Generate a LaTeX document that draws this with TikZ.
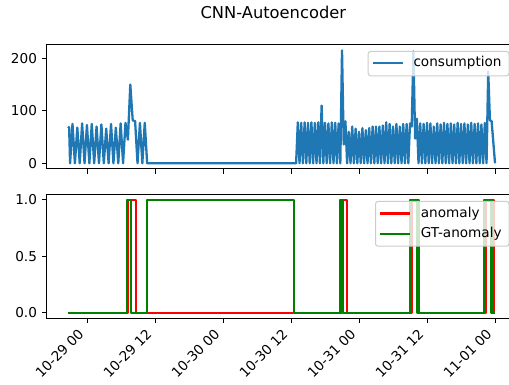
\documentclass[tikz,border=0pt]{standalone}
\usepackage{fontspec}
\setmainfont{DejaVu Sans}
\definecolor{tabblue}{HTML}{1F77B4}
\definecolor{mplgreen}{rgb}{0,0.5,0}

\begin{document}
\begin{tikzpicture}[x=1pt, y=1pt,
    spine/.style={line width=0.9pt},
    tickmark/.style={line width=0.9pt},
    ticklab/.style={font=\fontsize{13.6}{16}\selectfont, inner sep=0pt},
    xlab/.style={ticklab, rotate=45, anchor=base east},
    cons/.style={tabblue, line width=2.3pt, line join=round},
    anom/.style={red, line width=2.3pt, line join=round},
    gtanom/.style={mplgreen, line width=2.3pt, line join=round},
    legbox/.style={draw=black!20, line width=1pt, fill=white, fill opacity=0.8, rounded corners=2.5pt, inner sep=0pt},
    leglab/.style={ticklab, anchor=west}]
\useasboundingbox (0,0) rectangle (509,385);
\node[font=\fontsize{16.3}{19}\selectfont] (title) at (273.3,372.5) {CNN-Autoencoder};

\begin{scope}[x=5.667pt, y=0.525pt, shift={(87pt,221.7pt)}]
  \draw[cons] (-3.35,70) -- (-3.15,68)
    \foreach \pk/\vl [count=\i from 0] in {75/0, 68/0, 76/0, 73/0, 75/0, 70/0, 74/0, 66/0,
        75/0, 68/0, 76/0, 77/0, 150/45, 80/82, 77/0, 77/0}
      { -- ({-2.985+0.85*\i},\vl) -- ({-2.56+0.85*\i},\pk) }
    -- (10.615,0) -- (36.9,0)
    \foreach \pk/\vl [count=\i from 0] in {78/0, 77/0, 78/0, 77/0, 78/0, 77/0, 78/0, 110/0,
        77/0, 76/0, 78/0, 77/0, 76/0, 215/0, 80/36, 60/0, 70/0, 66/0, 60/0, 67/0,
        63/0, 67/0, 70/0, 70/0, 70/0, 72/0, 78/0, 75/0, 70/0, 75/0, 70/0, 75/0,
        75/0, 76/0, 213/70, 85/47, 76/0, 75/0, 77/0, 76/0, 70/0, 76/0, 74/0, 77/0,
        75/0, 76/0, 74/0, 77/0, 75/0, 76/0, 74/0, 77/0, 75/0, 76/0, 74/0, 77/0,
        175/0, 80/82}
      { -- ({36.9+0.6*\i},\vl) -- ({37.2+0.6*\i},\pk) }
    -- (72,0);
  \draw[spine] (-7.12,-10.75) rectangle (75.77,225.75);
  \foreach \h in {0,12,...,72}
    \draw[tickmark] (\h,-10.75) -- ([yshift=-4.76pt]\h,-10.75);
  \foreach \v in {0,100,200} {
    \draw[tickmark] (-7.12,\v) -- ([xshift=-4.76pt]-7.12,\v);
    \node[ticklab, anchor=east] (ty\v) at ([xshift=-9.52pt]-7.12,\v) {\v};
  }
\end{scope}

\begin{scope}[x=5.667pt, y=113pt, shift={(87pt,72.3pt)}]
  \draw[anom] (-3.35,0)
    \foreach \a/\b in {7.23/8.65, 45.0/45.9, 57.26/58.6, 70.36/71.87}
      { -- (\a,0) -- (\a,1) -- (\b,1) -- (\b,0) }
    -- (72,0);
  \draw[gtanom] (-3.35,0)
    \foreach \a/\b in {7.0/7.76, 10.59/36.53, 44.65/45.12, 57.0/58.3, 70.1/71.4}
      { -- (\a,0) -- (\a,1) -- (\b,1) -- (\b,0) }
    -- (72,0);
  \draw[spine] (-7.12,-0.05) rectangle (75.77,1.05);
  \foreach \h/\t [count=\i] in {0/10-29 00, 12/10-29 12, 24/10-30 00, 36/10-30 12,
      48/10-31 00, 60/10-31 12, 72/11-01 00} {
    \draw[tickmark] (\h,-0.05) -- ([yshift=-4.76pt]\h,-0.05);
    \node[xlab] (tx\i) at ([xshift=-2.26pt, yshift=-16.85pt]\h,-0.05) {\t};
  }
  \foreach \v [count=\i] in {0.0,0.5,1.0} {
    \draw[tickmark] (-7.12,\v) -- ([xshift=-4.76pt]-7.12,\v);
    \node[ticklab, anchor=east] (by\i) at ([xshift=-9.52pt]-7.12,\v) {\v};
  }
\end{scope}

\node[legbox, minimum width=140.8pt, minimum height=24.3pt, anchor=north west] (legc) at (367.7,334) {};
\draw[cons] ([xshift=5pt, yshift=0.6pt]legc.west) -- ++(30.6pt,0pt) coordinate (lc);
\node[leglab] (lcons) at ([xshift=10pt]lc) {consumption};

\node[legbox, minimum width=133.5pt, minimum height=44.7pt, anchor=north west] (lega) at (375,184) {};
\draw[anom] ([xshift=5pt, yshift=10.3pt]lega.west) -- ++(30pt,0pt) coordinate (la);
\node[leglab] (lanom) at ([xshift=10.7pt]la) {anomaly};
\draw[gtanom] ([xshift=5pt, yshift=-10.3pt]lega.west) -- ++(30pt,0pt) coordinate (lg);
\node[leglab] (lgt) at ([xshift=10.7pt]lg) {GT-anomaly};
\end{tikzpicture}
\end{document}
